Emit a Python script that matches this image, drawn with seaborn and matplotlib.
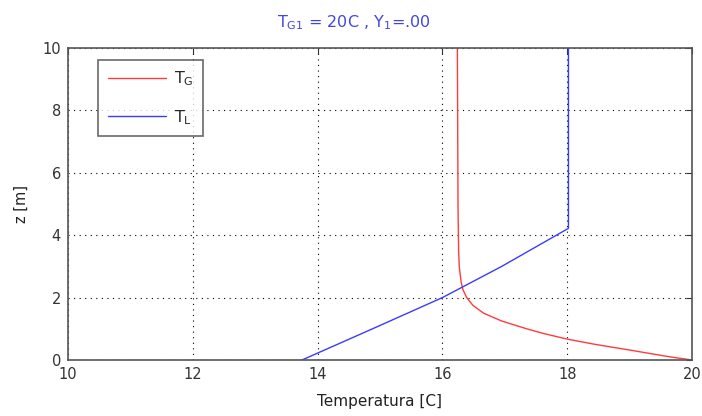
import matplotlib
matplotlib.use("Agg")
import matplotlib.pyplot as plt
import seaborn as sns
import pandas as pd

# data
z_G = [0.0, 0.1, 0.2, 0.32, 0.5, 0.67, 0.85, 1.0, 1.25, 1.5, 1.75, 2.0, 2.25, 2.5, 3.0, 3.5, 5.0, 10.0]
T_G = [20.0, 19.65, 19.35, 19.0, 18.45, 18.0, 17.62, 17.35, 16.95, 16.66, 16.49, 16.39, 16.33, 16.3, 16.27, 16.26, 16.25, 16.24]
z_L = [0.0, 1.0, 2.0, 3.0, 4.22, 10.0]
T_L = [13.75, 14.88, 16.0, 16.95, 18.02, 18.02]

xticks = [10, 12, 14, 16, 18, 20]
yticks = [0, 2, 4, 6, 8, 10]

sns.set_style("white")
plt.rcParams['font.family'] = ['DejaVu Sans']
plt.rcParams['mathtext.fontset'] = 'dejavusans'

W, H = 702, 416
fig = plt.figure(figsize=(W / 100, H / 100), dpi=100)
ax = fig.add_axes([68 / W, 1 - 360 / H, (692 - 68) / W, (360 - 48) / H])

dG = pd.DataFrame({"T": T_G, "z": z_G})
dL = pd.DataFrame({"T": T_L, "z": z_L})
sns.lineplot(data=dG, x="T", y="z", sort=False, estimator=None, color="#ff3b3b",
             lw=1.0, ax=ax, label=r"T$_\mathrm{G}$")
sns.lineplot(data=dL, x="T", y="z", sort=False, estimator=None, color="#3b3bff",
             lw=1.0, ax=ax, label=r"T$_\mathrm{L}$")

ax.set_xlim(10, 20)
ax.set_ylim(0, 10)
ax.set_xticks(xticks)
ax.set_yticks(yticks)
ax.grid(True, color="black", linestyle=(0, (1, 4)), linewidth=0.8)
ax.tick_params(direction="in", top=True, right=True, length=4, labelsize=10.5,
               colors="#333333", pad=5)
for s in ax.spines.values():
    s.set_color("#555555")
    s.set_linewidth(1.2)
ax.set_xlabel("Temperatura [C]", fontsize=11, color="#222222", labelpad=9)
ax.set_ylabel("z [m]", fontsize=10.5, color="#222222", labelpad=10)
fig.text(354 / W, 1 - 23 / H, r"T$_\mathrm{G1}$ = 20C , Y$_\mathrm{1}$=.00", fontsize=11.5,
         color="#4444e6", ha="center", va="center")

leg = ax.legend(loc="upper left", bbox_to_anchor=(0.036, 0.988), fontsize=11.5, handlelength=3.6,
                frameon=True, fancybox=False, borderpad=0.6, labelspacing=1.25, handletextpad=0.5)
leg.get_frame().set_edgecolor("#444444")
leg.get_frame().set_linewidth(1.2)

fig.savefig("out.png", dpi=100)
